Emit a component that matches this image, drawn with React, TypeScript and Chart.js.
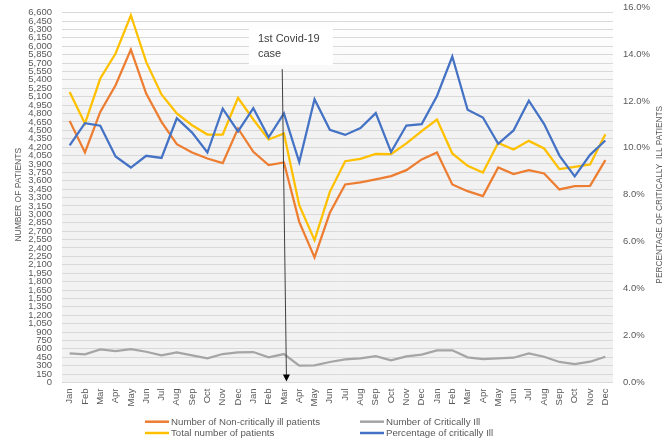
import React, { useEffect, useRef } from "react";
import { Chart, registerables } from "chart.js";

Chart.register(...registerables);

// ---------- data ----------
const categories = [
  "Jan", "Feb", "Mar", "Apr", "May", "Jun", "Jul", "Aug", "Sep", "Oct", "Nov", "Dec",
  "Jan", "Feb", "Mar", "Apr", "May", "Jun", "Jul", "Aug", "Sep", "Oct", "Nov", "Dec",
  "Jan", "Feb", "Mar", "Apr", "May", "Jun", "Jul", "Aug", "Sep", "Oct", "Nov", "Dec",
];

const nonCriticalPatients = [
  4668, 4104, 4829, 5304, 5941, 5156, 4650, 4252, 4104, 3997, 3914, 4532,
  4115, 3878, 3926, 2867, 2232, 3028, 3534, 3570, 3623, 3682, 3789, 3980,
  4104, 3534, 3414, 3325, 3837, 3718, 3789, 3730, 3445, 3504, 3509, 3967,
];

const criticalPatients = [
  520, 503, 592, 562, 597, 549, 485, 538, 485, 431, 508, 538,
  544, 449, 508, 300, 307, 366, 413, 431, 472, 396, 467, 496,
  574, 574, 449, 419, 431, 442, 520, 460, 366, 330, 371, 460,
];

const totalPatients = [
  5185, 4621, 5424, 5870, 6553, 5720, 5139, 4800, 4591, 4425, 4425, 5078,
  4693, 4336, 4443, 3165, 2541, 3402, 3949, 3990, 4080, 4074, 4265, 4484,
  4693, 4087, 3866, 3748, 4276, 4158, 4311, 4176, 3807, 3848, 3891, 4431,
];

const criticalPercentage = [
  10.10, 11.05, 10.94, 9.63, 9.16, 9.66, 9.57, 11.26, 10.65, 9.80, 11.67, 10.70,
  11.69, 10.45, 11.47, 9.39, 12.07, 10.77, 10.55, 10.84, 11.48, 9.82, 10.95, 11.01,
  12.21, 13.89, 11.62, 11.29, 10.17, 10.74, 12.01, 11.01, 9.67, 8.78, 9.70, 10.31,
];

const seriesNames = [
  "Number of Non-critically ill patients",
  "Number of Critically Ill",
  "Total number of patients",
  "Percentage of critically Ill",
];

const leftTitle = "NUMBER OF PATIENTS";
const rightTitle = "PERCENTAGE OF CRITICALLY  ILL PATIENTS";
const annotationLines = ["1st Covid-19", "case"];
const covidCategoryIndex = 14;
const leftTickMaxLabel = 6600;

// ---------- style ----------
const FONT = "'Liberation Sans', Arial, sans-serif";
const TEXT = "#595959";
const COLORS = ["#ED7D31", "#A5A5A5", "#FFC000", "#4472C4"];

const backgroundPlugin = {
  id: "plotBackground",
  beforeDraw(chart: any) {
    const { ctx, chartArea: a } = chart;
    const g = ctx.createLinearGradient(0, a.top, 0, a.bottom);
    g.addColorStop(0, "#ffffff");
    g.addColorStop(0.08, "#fdfdfd");
    g.addColorStop(0.3, "#f2f2f2");
    g.addColorStop(1, "#f2f2f2");
    ctx.save();
    ctx.fillStyle = g;
    ctx.fillRect(a.left, a.top, a.right - a.left, a.bottom - a.top);
    ctx.restore();
  },
};

const annotationPlugin = {
  id: "covidAnnotation",
  afterDatasetsDraw(chart: any) {
    const { ctx, chartArea: a } = chart;
    const x = chart.scales.x.getPixelForValue(covidCategoryIndex);
    ctx.save();
    ctx.fillStyle = "#ffffff";
    ctx.fillRect(x - 35, 28, 84, 37);
    ctx.fillStyle = "#404040";
    ctx.font = `11px ${FONT}`;
    ctx.textAlign = "left";
    ctx.textBaseline = "middle";
    ctx.fillText(annotationLines[0], x - 26, 38.5);
    ctx.fillText(annotationLines[1], x - 26, 53.5);
    const tipX = x + 2.5;
    const tipY = a.bottom - 1;
    ctx.strokeStyle = "#404040";
    ctx.lineWidth = 1;
    ctx.beginPath();
    ctx.moveTo(x - 1.7, 69);
    ctx.lineTo(tipX, tipY - 6);
    ctx.stroke();
    ctx.fillStyle = "#000000";
    ctx.beginPath();
    ctx.moveTo(tipX, tipY);
    ctx.lineTo(tipX - 3.5, tipY - 7);
    ctx.lineTo(tipX + 3.5, tipY - 7);
    ctx.closePath();
    ctx.fill();
    ctx.restore();
  },
};

const extrasPlugin = {
  id: "extras",
  afterDraw(chart: any) {
    const { ctx, chartArea: a } = chart;
    ctx.save();
    ctx.translate(659.5, (a.top + a.bottom) / 2);
    ctx.rotate(-Math.PI / 2);
    ctx.fillStyle = TEXT;
    ctx.font = `8.3px ${FONT}`;
    ctx.textAlign = "center";
    ctx.textBaseline = "middle";
    ctx.fillText(rightTitle, 0, 0);
    ctx.restore();

    ctx.save();
    ctx.font = `9.7px ${FONT}`;
    ctx.textAlign = "left";
    ctx.textBaseline = "middle";
    const cols = [145, 360];
    const rows = [421.7, 433];
    [0, 1, 2, 3].forEach((idx, i) => {
      const cx = cols[i % 2];
      const cy = rows[Math.floor(i / 2)];
      ctx.strokeStyle = COLORS[idx];
      ctx.lineWidth = 2.5;
      ctx.beginPath();
      ctx.moveTo(cx, cy);
      ctx.lineTo(cx + 24, cy);
      ctx.stroke();
      ctx.fillStyle = TEXT;
      ctx.fillText(seriesNames[idx], cx + 26, cy + 0.5);
    });
    ctx.restore();
  },
};

export default function App() {
  const canvasRef = useRef<HTMLCanvasElement | null>(null);

  useEffect(() => {
    if (!canvasRef.current) return;
    const mk = (label: string, data: number[], color: string, axis: string, order: number) => ({
      label,
      data,
      borderColor: color,
      backgroundColor: color,
      borderWidth: 2.25,
      pointRadius: 0,
      pointHoverRadius: 0,
      tension: 0,
      fill: false,
      yAxisID: axis,
      order,
    });
    const zeroPad = (s: any) => {
      s.paddingTop = 0;
      s.paddingBottom = 0;
      s.paddingLeft = 0;
      s.paddingRight = 0;
    };
    const chart = new Chart(canvasRef.current, {
      type: "line",
      data: {
        labels: categories,
        datasets: [
          mk(seriesNames[0], nonCriticalPatients, COLORS[0], "y", 3),
          mk(seriesNames[1], criticalPatients, COLORS[1], "y", 2),
          mk(seriesNames[2], totalPatients, COLORS[2], "y", 1),
          mk(seriesNames[3], criticalPercentage, COLORS[3], "y1", 0),
        ],
      },
      options: {
        responsive: false,
        animation: false,
        devicePixelRatio: 1,
        layout: { padding: { top: 7, left: 0, right: 0, bottom: 32 } },
        plugins: {
          legend: { display: false },
          tooltip: { enabled: false },
        },
        scales: {
          x: {
            type: "category",
            offset: true,
            grid: { display: false, drawTicks: false },
            border: { display: false },
            ticks: {
              autoSkip: false,
              maxRotation: 90,
              minRotation: 90,
              padding: 6,
              color: TEXT,
              font: { family: FONT, size: 9.5 },
            },
            afterFit: (s: any) => {
              s.height = 25.5;
              zeroPad(s);
            },
          },
          y: {
            type: "linear",
            position: "left",
            min: 0,
            max: 6700,
            grid: { color: "#d9d9d9", lineWidth: 1, drawTicks: false },
            border: { display: false },
            ticks: {
              stepSize: 150,
              includeBounds: false,
              autoSkip: false,
              padding: 10,
              color: TEXT,
              font: { family: FONT, size: 9.5 },
              callback: (v: any) => Number(v).toLocaleString("en-US"),
            },
            afterBuildTicks: (s: any) => {
              s.ticks = s.ticks.filter((t: any) => t.value <= leftTickMaxLabel);
            },
            title: {
              display: true,
              text: leftTitle,
              color: TEXT,
              font: { family: FONT, size: 8.5 },
              padding: { top: 13.4, bottom: 0 },
            },
            afterFit: (s: any) => {
              s.width = 62;
              zeroPad(s);
            },
          },
          y1: {
            type: "linear",
            position: "right",
            min: 0,
            max: 16,
            grid: { display: false, drawOnChartArea: false, drawTicks: false },
            border: { display: false },
            ticks: {
              stepSize: 2,
              autoSkip: false,
              padding: 10,
              color: TEXT,
              font: { family: FONT, size: 9.5 },
              callback: (v: any) => Number(v).toFixed(1) + "%",
            },
            afterFit: (s: any) => {
              s.width = 56;
              zeroPad(s);
            },
          },
        },
      },
      plugins: [backgroundPlugin, annotationPlugin, extrasPlugin],
    } as any);
    return () => chart.destroy();
  }, []);

  return (
    <div style={{ position: "absolute", left: 0, top: 0, width: 669, height: 440, background: "#ffffff" }}>
      <canvas ref={canvasRef} width={669} height={440} style={{ display: "block" }} />
    </div>
  );
}
